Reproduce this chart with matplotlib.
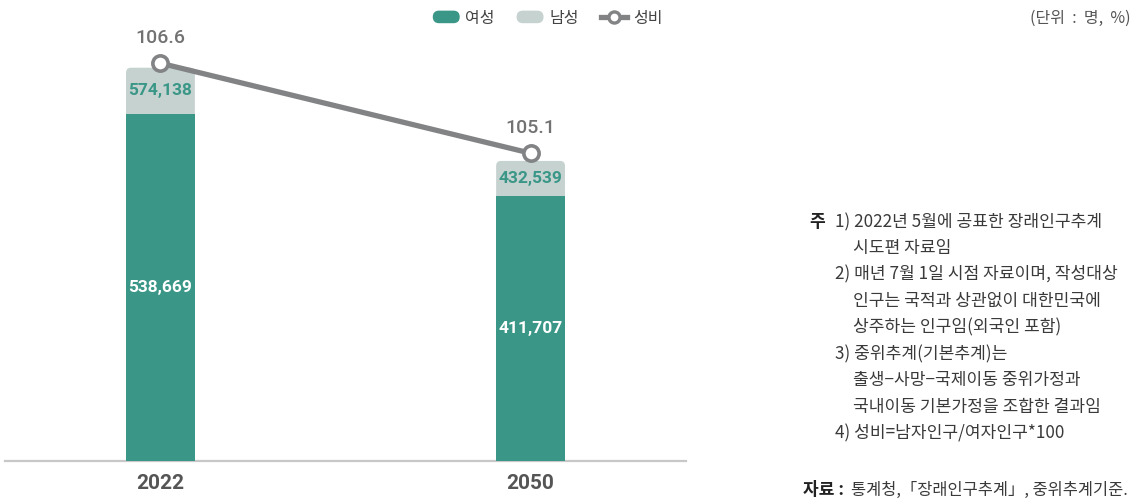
import matplotlib
matplotlib.use("Agg")
import matplotlib.pyplot as plt
from matplotlib.patches import FancyBboxPatch, Patch
from matplotlib.lines import Line2D
from matplotlib.legend_handler import HandlerPatch

plt.rcParams['font.family'] = ['Noto Sans CJK KR', 'DejaVu Sans']

years = ['2022', '2050']
female = [538669, 411707]
male = [574138, 432539]
sex_ratio = [106.6, 105.1]

# the male segment is drawn compressed on top of the female bar (as in the original graphic)
male_scale = 0.125

teal = '#3a9787'
light = '#c5d2d0'
gray = '#828385'

W, H = 1140, 498
fig = plt.figure(figsize=(W / 100, H / 100), dpi=100)
ax = fig.add_axes([5 / W, 37 / H, 681 / W, 441 / H])

x = list(range(len(years)))
bw = 0.186
male_disp = [m * male_scale for m in male]

fb = ax.bar(x, female, width=bw, color=teal, zorder=3)
mb = ax.bar(x, male_disp, bottom=female, width=bw, color=light, zorder=2)

ax.set_xlim(-0.42, 1.42)
ax.set_ylim(0, 684500)

# rounded top corners for the stacked bars
px_x = 1.84 / 681          # x units per pixel
px_y = 684500 / 441        # y units per pixel
for r in mb:
    bx, by, bw_, bh = r.get_x(), r.get_y(), r.get_width(), r.get_height()
    r.set_visible(False)
    ax.add_patch(FancyBboxPatch((bx, 0), bw_, by + bh,
                                boxstyle=f"round,pad=0,rounding_size={5 * px_x}",
                                mutation_aspect=px_y / px_x,
                                fc=light, ec='none', zorder=2))

num_font = ['Roboto', 'DejaVu Sans']
for i in x:
    ax.text(i, female[i] / 2, f"{female[i]:,}", ha='center', va='center',
            color='white', fontsize=12.5, fontweight='bold', family=num_font, zorder=5)
    ax.text(i, female[i] + male_disp[i] / 2, f"{male[i]:,}", ha='center', va='center',
            color=teal, fontsize=12.5, fontweight='bold', family=num_font, zorder=5)

for s in ['left', 'right', 'top']:
    ax.spines[s].set_visible(False)
ax.spines['bottom'].set_color('#c8c8c8')
ax.spines['bottom'].set_linewidth(1.6)
ax.set_yticks([])
ax.set_xticks(x)
ax.set_xticklabels(years, fontsize=15, fontweight='bold', color='#555555', family=num_font)
ax.tick_params(axis='x', length=0, pad=9)

ax2 = ax.twinx()
ax2.set_ylim(99.97, 107.32)
ax2.axis('off')
ax2.plot(x, sex_ratio, color=gray, lw=3.8, marker='o', ms=11, mfc='white', mec=gray, mew=2.6,
         solid_capstyle='butt', zorder=6)
for i in x:
    ax2.annotate(f"{sex_ratio[i]}", (i, sex_ratio[i]), xytext=(0, 18), textcoords='offset points',
                 ha='center', va='center', fontsize=14, fontweight='medium', color='#727272', family=num_font)


def pill(legend, orig_handle, xdescent, ydescent, width, height, fontsize):
    return FancyBboxPatch((-xdescent, -ydescent), width, height,
                          boxstyle=f"round,pad=0,rounding_size={height / 2}")


handles = [Patch(color=teal, label='여성'), Patch(color=light, label='남성'),
           Line2D([0], [0], color=gray, lw=3.8, marker='o', ms=8, mfc='white', mec=gray, mew=2.4, label='성비')]
fig.legend(handles=handles, loc='center', bbox_to_anchor=(548 / W, 1 - 18 / H), ncol=3, frameon=False,
           fontsize=11.5, handlelength=1.6, handletextpad=0.4, columnspacing=1.4,
           handler_map={Patch: HandlerPatch(patch_func=pill)}, labelcolor='#444444')

fig.text(1131 / W, 1 - 18 / H, "(단위  :  명,  %)", ha='right', va='center', fontsize=11.5, color='#555555')

note_col = '#3a3a3a'
fs = 12.3
fig.text(809 / W, 1 - 222 / H, "주", ha='left', va='center', fontsize=fs, fontweight='bold', color='#222222')
notes = [
    (835, "1) 2022년 5월에 공표한 장래인구추계"),
    (853, "시도편 자료임"),
    (835, "2) 매년 7월 1일 시점 자료이며, 작성대상"),
    (853, "인구는 국적과 상관없이 대한민국에"),
    (853, "상주하는 인구임(외국인 포함)"),
    (835, "3) 중위추계(기본추계)는"),
    (853, "출생−사망−국제이동 중위가정과"),
    (853, "국내이동 기본가정을 조합한 결과임"),
    (835, "4) 성비=남자인구/여자인구*100"),
]
for k, (xp, t) in enumerate(notes):
    fig.text(xp / W, 1 - (222 + k * 26.4) / H, t, ha='left', va='center', fontsize=fs, color=note_col)

fig.text(803 / W, 1 - 490 / H, "자료 :", ha='left', va='center', fontsize=fs, fontweight='bold', color='#222222')
fig.text(851 / W, 1 - 490 / H, "통계청,「장래인구추계」, 중위추계기준.", ha='left', va='center', fontsize=11.8,
         color=note_col)

fig.savefig('out.png', dpi=100)
